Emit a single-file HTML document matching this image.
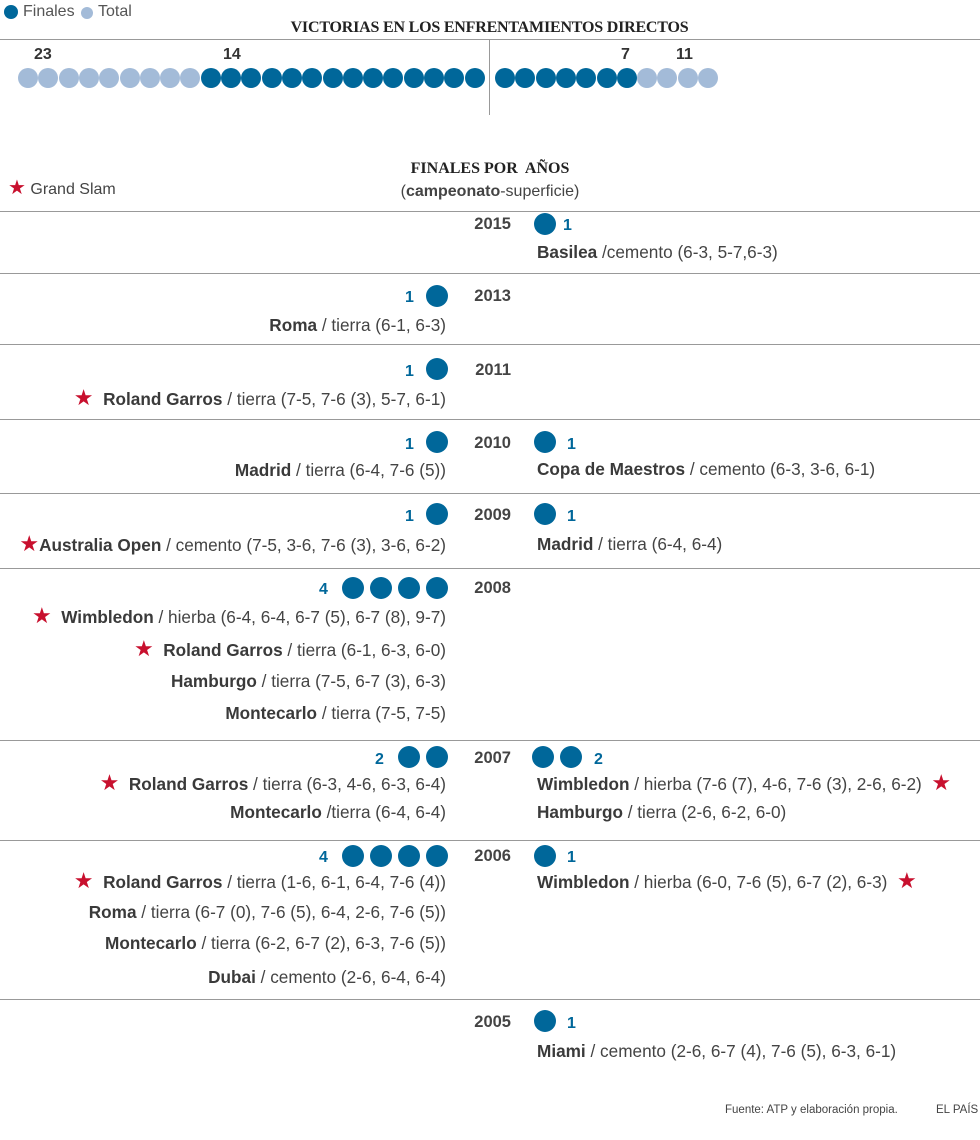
<!DOCTYPE html>
<html><head><meta charset="utf-8"><style>
body{margin:0;width:980px;height:1140px;background:#fff;position:relative;overflow:hidden;font-family:"Liberation Sans",sans-serif;color:#444}
.a{position:absolute;white-space:nowrap}
.d{position:absolute;border-radius:50%}
.t{font-size:17.2px;line-height:20px;color:#444}
.t b{color:#3a3a3a}
.r{text-align:right}
.y{font-weight:bold;font-size:16.5px;line-height:20px;color:#444}
.n{font-weight:bold;font-size:16px;line-height:20px;color:#00679a}
.s{color:#c8102e;font-size:22px}
.h{position:absolute;left:0;width:980px;height:1px;background:#999}
.ser{font-family:"Liberation Serif",serif;font-weight:bold;color:#222}
</style></head><body>
<div class="d" style="left:4px;top:5px;width:14px;height:14px;background:#00679a"></div>
<div class="a" style="left:23px;top:3px;font-size:16px;color:#555">Finales</div>
<div class="d" style="left:81px;top:7px;width:12px;height:12px;background:#a3bbd8"></div>
<div class="a" style="left:98px;top:3px;font-size:16px;color:#555">Total</div>
<div class="a ser" style="left:284px;top:19px;font-size:16px;width:411px;text-align:center;letter-spacing:-0.2px">VICTORIAS EN LOS ENFRENTAMIENTOS DIRECTOS</div>
<div class="h" style="top:39px;"></div>
<div class="a" style="left:489px;top:40px;width:1px;height:75px;background:#999"></div>
<div class="a" style="left:34px;top:46px;font-weight:bold;font-size:16px;color:#333">23</div>
<div class="a" style="left:223px;top:46px;font-weight:bold;font-size:16px;color:#333">14</div>
<div class="a" style="left:621px;top:46px;font-weight:bold;font-size:16px;color:#333">7</div>
<div class="a" style="left:676px;top:46px;font-weight:bold;font-size:16px;color:#333">11</div>
<div id="dots"></div>
<div class="a ser" style="left:380px;top:160px;width:220px;text-align:center;font-size:16px">FINALES POR&nbsp; AÑOS</div>
<div class="a" style="left:380px;top:183px;width:220px;text-align:center;font-size:16px;color:#444">(<b>campeonato</b>-superficie)</div>
<div class="a" style="left:8px;top:175px;font-size:16px;color:#444"><span class="s" style="font-size:20px">★</span> Grand Slam</div>
<div class="h" style="top:211px"></div>
<div class="h" style="top:273px"></div>
<div class="h" style="top:344px"></div>
<div class="h" style="top:419px"></div>
<div class="h" style="top:493px"></div>
<div class="h" style="top:568px"></div>
<div class="h" style="top:740px"></div>
<div class="h" style="top:840px"></div>
<div class="h" style="top:999px"></div>
<div id="rows"></div>
<div class="a" style="left:725px;top:1104px;font-size:11.5px;color:#444">Fuente: ATP y elaboración propia.</div>
<div class="a" style="left:936px;top:1104px;font-size:11.5px;color:#444">EL PAÍS</div>
<script>
var D=document.getElementById('dots'),h='';
for(var i=0;i<23;i++){var x=28+i*20.3;h+='<div class="d" style="left:'+(x-10)+'px;top:68px;width:20px;height:20px;background:'+(i<9?'#a3bbd8':'#00679a')+'"></div>';}
for(var i=0;i<11;i++){var x=505+i*20.3;h+='<div class="d" style="left:'+(x-10)+'px;top:68px;width:20px;height:20px;background:'+(i<7?'#00679a':'#a3bbd8')+'"></div>';}
D.innerHTML=h;
var R='';
function dot(x,y){R+='<div class="d" style="left:'+(x-11)+'px;top:'+(y-11)+'px;width:22px;height:22px;background:#00679a"></div>';}
function num(x,y,v){R+='<div class="a n" style="left:'+(x-5)+'px;top:'+(y-10)+'px">'+v+'</div>';}
function yr(y,v){R+='<div class="a y" style="left:440px;width:71px;text-align:right;top:'+(y-10)+'px">'+v+'</div>';}
function L(y,s){R+='<div class="a t r" style="right:534px;top:'+(y-10)+'px">'+s+'</div>';}
function Rt(y,s){R+='<div class="a t" style="left:537px;top:'+(y-10)+'px">'+s+'</div>';}
var st='<span class="s">★</span>&nbsp; ';
var se='&nbsp; <span class="s">★</span>';
yr(224,'2015');dot(545,224);num(568,226,'1');Rt(252,'<b>Basilea</b> /cemento (6-3, 5-7,6-3)');
yr(296,'2013');num(410,298,'1');dot(437,296);L(325,'<b>Roma</b> / tierra (6-1, 6-3)');
yr(370,'2011');num(410,372,'1');dot(437,369);L(398,st+'<b>Roland Garros</b> / tierra (7-5, 7-6 (3), 5-7, 6-1)');
yr(443,'2010');num(410,445,'1');dot(437,442);L(470,'<b>Madrid</b> / tierra (6-4, 7-6 (5))');dot(545,442);num(572,445,'1');Rt(469,'<b>Copa de Maestros</b> / cemento (6-3, 3-6, 6-1)');
yr(515,'2009');num(410,517,'1');dot(437,514);L(544,'<span class="s">★</span><b>Australia Open</b> / cemento (7-5, 3-6, 7-6 (3), 3-6, 6-2)');dot(545,514);num(572,517,'1');Rt(544,'<b>Madrid</b> / tierra (6-4, 6-4)');
yr(588,'2008');num(324,590,'4');[353,381,409,437].forEach(function(x){dot(x,588)});
L(616,st+'<b>Wimbledon</b> / hierba (6-4, 6-4, 6-7 (5), 6-7 (8), 9-7)');L(649,st+'<b>Roland Garros</b> / tierra (6-1, 6-3, 6-0)');L(681,'<b>Hamburgo</b> / tierra (7-5, 6-7 (3), 6-3)');L(713,'<b>Montecarlo</b> / tierra (7-5, 7-5)');
yr(758,'2007');num(380,760,'2');dot(409,757);dot(437,757);dot(543,757);dot(571,757);num(599,760,'2');
L(783,st+'<b>Roland Garros</b> / tierra (6-3, 4-6, 6-3, 6-4)');L(812,'<b>Montecarlo</b> /tierra (6-4, 6-4)');
Rt(783,'<b>Wimbledon</b> / hierba (7-6 (7), 4-6, 7-6 (3), 2-6, 6-2)'+se);Rt(812,'<b>Hamburgo</b> / tierra (2-6, 6-2, 6-0)');
yr(856,'2006');num(324,858,'4');[353,381,409,437].forEach(function(x){dot(x,856)});dot(545,856);num(572,858,'1');
L(881,st+'<b>Roland Garros</b> / tierra (1-6, 6-1, 6-4, 7-6 (4))');L(912,'<b>Roma</b> / tierra (6-7 (0), 7-6 (5), 6-4, 2-6, 7-6 (5))');L(943,'<b>Montecarlo</b> / tierra (6-2, 6-7 (2), 6-3, 7-6 (5))');L(977,'<b>Dubai</b> / cemento (2-6, 6-4, 6-4)');
Rt(881,'<b>Wimbledon</b> / hierba (6-0, 7-6 (5), 6-7 (2), 6-3)'+se);
yr(1022,'2005');dot(545,1021);num(572,1024,'1');Rt(1051,'<b>Miami</b> / cemento (2-6, 6-7 (4), 7-6 (5), 6-3, 6-1)');
document.getElementById('rows').innerHTML=R;
</script>
</body></html>
